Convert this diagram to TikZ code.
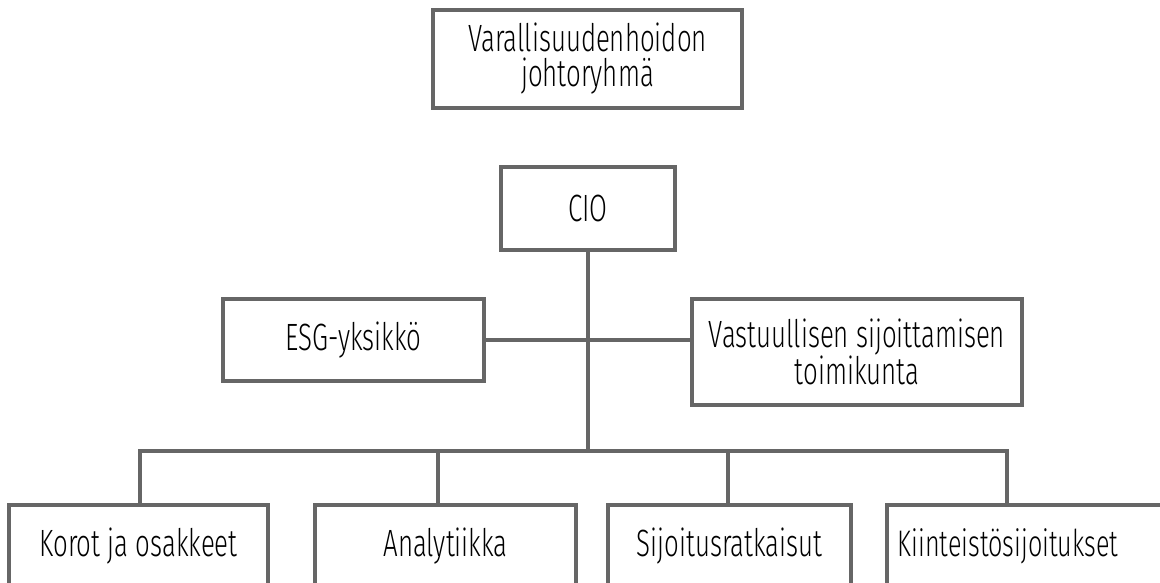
\documentclass[tikz,border=0pt]{standalone}
\usepackage{fontspec}
\setmainfont[FakeStretch=0.68, UprightFont=* Light]{Fira Sans}
\begin{document}
\begin{tikzpicture}[x=1pt,y=-1pt,
  box/.style={draw=linegray, line width=3.2pt, fill=white, rectangle, inner sep=0pt, align=center, text=black,
    font=\fontsize{38}{34}\selectfont},
  conn/.style={draw=linegray, line width=3.2pt}]
\definecolor{linegray}{HTML}{666666}
\clip (0,0) rectangle (1160,582);
\useasboundingbox (0,0) rectangle (1160,582);
\fill[white] (0,0) rectangle (1160,582);
% top
\node[box, minimum width=309pt, minimum height=98pt, font=\fontsize{38}{35}\selectfont] (top) at (587.5,59) {Varallisuudenhoidon\\johtoryhmä};
% CIO
\node[box, minimum width=174pt, minimum height=83pt] (cio) at (588,208.5) {CIO};
% ESG / committee
\node[box, minimum width=261pt, minimum height=82pt] (esg) at (353.5,340) {ESG-yksikkö};
\node[box, minimum width=330pt, minimum height=106pt] (vast) at (857,352) {Vastuullisen sijoittamisen\\toimikunta};
% bottom row
\node[box, minimum width=259pt, minimum height=82pt] (korot) at (138.5,546) {Korot ja osakkeet};
\node[box, minimum width=261pt, minimum height=82pt] (anal) at (445.5,546) {Analytiikka};
\node[box, minimum width=243pt, minimum height=82pt] (sijo) at (729.5,546) {Sijoitusratkaisut};
\node[box, minimum width=300pt, minimum height=82pt] (kiin) at (1037,546) {};
\node[font=\fontsize{37}{33}\selectfont, inner sep=0pt] (kiint) at (1008,546) {Kiinteistösijoitukset};
% connectors
\coordinate (bus) at (588,451);
\coordinate (busL) at (140,451);
\coordinate (busA) at (438,451);
\coordinate (busS) at (728,451);
\coordinate (busR) at (1007,451);
\draw[conn] (cio.south) -- (bus);
\draw[conn] (esg.east) -- (vast.west |- esg.east);
\draw[conn, line cap=rect] (busL) -- (busR);
\draw[conn] (busL) -- (busL |- korot.north);
\draw[conn] (busA) -- (busA |- anal.north);
\draw[conn] (busS) -- (busS |- sijo.north);
\draw[conn] (busR) -- (busR |- kiin.north);
\end{tikzpicture}
\end{document}
